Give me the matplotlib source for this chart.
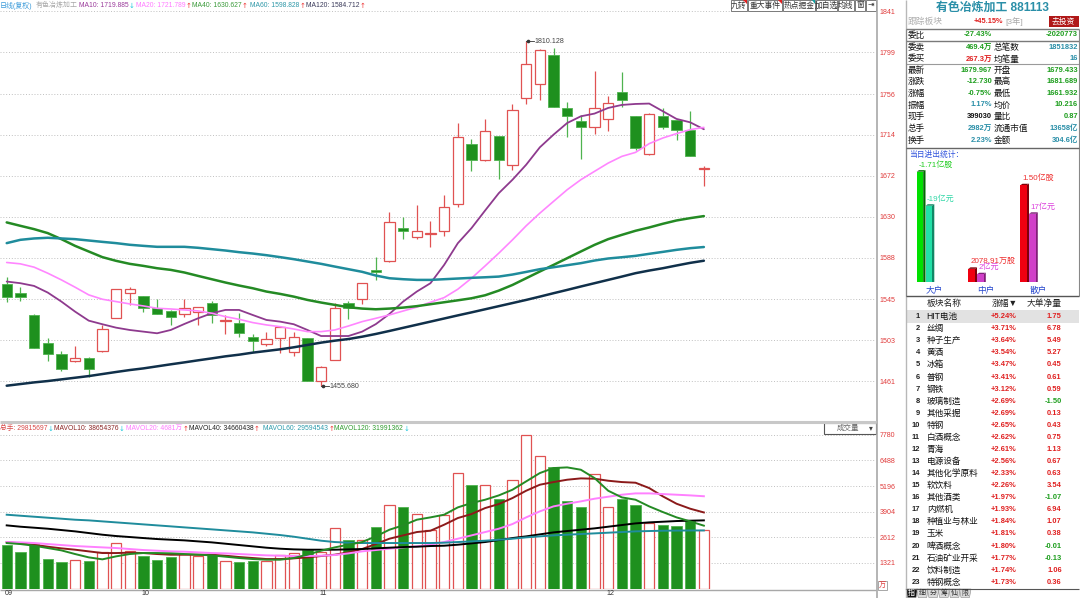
import matplotlib
matplotlib.use('Agg')
import matplotlib.pyplot as plt
from matplotlib.patches import Rectangle, Polygon
from matplotlib import font_manager
import numpy as np

_names = {f.name for f in font_manager.fontManager.ttflist}
NUM = 'Liberation Sans Narrow' if 'Liberation Sans Narrow' in _names else 'Liberation Sans'
NS = 1.0 if NUM == 'Liberation Sans Narrow' else 0.85
CJK = 'Noto Sans CJK SC'
FAM = [NUM, CJK, 'DejaVu Sans']
plt.rcParams['font.family'] = FAM

# ---------------- data ----------------
opens = [1560.6, 1551.3, 1529.0, 1499.8, 1488.5, 1481.6, 1485.0, 1492.2, 1525.5, 1551.3,
         1548.5, 1535.8, 1533.1, 1529.7, 1531.7, 1541.7, 1523.1, 1521.1, 1506.0, 1498.8,
         1504.9, 1490.5, 1505.3, 1461.0, 1482.6, 1541.0, 1545.4, 1575.3, 1584.9, 1618.2,
         1609.0, 1612.4, 1614.8, 1642.9, 1705.1, 1688.6, 1712.6, 1682.7, 1752.1, 1766.5,
         1796.7, 1741.8, 1728.7, 1722.2, 1730.8, 1757.9, 1733.9, 1694.8, 1733.2, 1729.8,
         1718.8, 1679.433]
highs = [1568.4, 1557.5, 1529.7, 1504.9, 1492.2, 1497.0, 1486.1, 1518.7, 1555.4, 1557.5,
         1548.5, 1545.4, 1534.1, 1545.4, 1537.6, 1543.4, 1529.0, 1531.4, 1509.4, 1511.1,
         1517.6, 1511.8, 1505.3, 1476.4, 1541.0, 1543.7, 1561.6, 1589.0, 1634.3, 1629.5,
         1641.9, 1625.8, 1651.8, 1726.3, 1709.9, 1730.5, 1712.6, 1745.9, 1810.128, 1802.5,
         1803.6, 1748.0, 1734.9, 1780.2, 1753.8, 1778.9, 1733.9, 1736.6, 1741.8, 1729.8,
         1739.0, 1681.689]
lows = [1542.7, 1543.7, 1494.6, 1481.9, 1471.6, 1480.9, 1465.5, 1491.2, 1525.5, 1539.3,
        1532.4, 1529.7, 1518.7, 1526.6, 1518.7, 1521.1, 1509.1, 1506.7, 1491.2, 1497.0,
        1489.5, 1487.1, 1461.0, 1455.68, 1482.6, 1524.8, 1540.3, 1565.0, 1583.2, 1606.9,
        1606.9, 1599.3, 1609.7, 1639.5, 1676.6, 1686.9, 1668.7, 1678.3, 1745.9, 1750.4,
        1742.8, 1711.6, 1689.3, 1715.0, 1717.8, 1742.8, 1698.9, 1693.7, 1720.5, 1709.2,
        1692.7, 1661.932]
closes = [1547.2, 1547.2, 1495.3, 1488.8, 1473.0, 1484.3, 1473.0, 1514.5, 1555.4, 1555.4,
          1535.8, 1529.7, 1527.3, 1535.8, 1537.6, 1529.0, 1523.8, 1510.1, 1502.5, 1504.3,
          1516.9, 1506.0, 1461.0, 1475.1, 1536.5, 1535.8, 1561.6, 1572.9, 1624.4, 1614.8,
          1615.5, 1613.7, 1639.5, 1711.6, 1688.6, 1718.4, 1688.6, 1740.1, 1787.4, 1801.2,
          1742.8, 1733.2, 1722.2, 1741.4, 1747.0, 1750.4, 1700.6, 1735.6, 1722.2, 1718.8,
          1692.7, 1679.967]
ma10 = [1563.3, 1561.6, 1558.8, 1552.0, 1542.7, 1532.4, 1523.1, 1519.4, 1515.9, 1513.5,
        1511.8, 1510.1, 1513.5, 1519.7, 1525.5, 1530.7, 1534.1, 1534.1, 1528.9, 1523.8,
        1522.1, 1519.4, 1513.5, 1507.3, 1507.3, 1507.3, 1511.8, 1519.5, 1530.0, 1542.7,
        1553.0, 1561.6, 1580.4, 1602.7, 1618.2, 1636.4, 1654.2, 1668.0, 1683.4, 1701.3,
        1714.3, 1726.3, 1733.2, 1736.0, 1741.8, 1744.9, 1745.9, 1746.3, 1738.4, 1730.5,
        1727.0, 1719.9]
ma20 = [1582.9, 1581.5, 1578.1, 1571.9, 1565.0, 1557.5, 1549.6, 1545.1, 1542.7, 1540.3,
        1538.2, 1535.8, 1535.1, 1534.1, 1533.1, 1530.7, 1527.2, 1524.5, 1521.1, 1518.7,
        1516.9, 1514.5, 1511.8, 1511.8, 1513.5, 1517.6, 1522.1, 1525.5, 1529.0, 1533.0,
        1537.0, 1542.0, 1546.8, 1555.4, 1566.7, 1579.4, 1592.5, 1606.2, 1620.6, 1633.6,
        1645.7, 1657.7, 1668.0, 1676.6, 1685.1, 1692.0, 1696.1, 1705.1, 1710.9, 1715.4,
        1719.5, 1721.8]
ma40 = [1624.1, 1620.6, 1617.2, 1613.1, 1606.9, 1600.0, 1594.2, 1588.4, 1584.6, 1581.5,
        1579.4, 1577.0, 1575.3, 1572.6, 1569.1, 1565.7, 1562.3, 1559.2, 1556.4, 1553.0,
        1550.6, 1547.8, 1544.4, 1541.7, 1539.3, 1536.9, 1535.5, 1534.8, 1535.5, 1536.5,
        1538.0, 1540.0, 1542.0, 1544.0, 1546.1, 1549.2, 1554.0, 1559.8, 1566.7, 1573.6,
        1580.4, 1587.3, 1594.2, 1601.0, 1606.9, 1611.3, 1615.5, 1618.9, 1622.7, 1626.1,
        1628.5, 1630.6]
ma60 = [1602.8, 1606.2, 1607.6, 1608.3, 1607.6, 1606.9, 1605.5, 1604.1, 1602.8, 1601.1,
        1600.0, 1599.0, 1599.0, 1599.0, 1598.0, 1596.6, 1595.2, 1593.5, 1592.1, 1590.4,
        1588.4, 1586.3, 1583.9, 1581.5, 1578.7, 1576.0, 1573.3, 1569.5, 1566.7, 1565.7,
        1565.0, 1565.0, 1565.7, 1566.4, 1567.1, 1567.7, 1568.4, 1570.5, 1573.2, 1576.0,
        1578.0, 1580.1, 1582.2, 1584.9, 1587.0, 1588.3, 1589.7, 1591.8, 1593.8, 1595.9,
        1597.6, 1598.8]
ma120 = [1456.2, 1457.9, 1459.6, 1461.0, 1462.7, 1464.4, 1466.1, 1468.2, 1470.3, 1472.3,
         1474.0, 1476.1, 1478.2, 1480.2, 1482.3, 1484.3, 1486.4, 1488.1, 1490.2, 1491.9,
         1493.6, 1495.7, 1498.1, 1500.5, 1502.5, 1504.2, 1506.6, 1509.4, 1512.5, 1515.7,
         1518.9, 1522.1, 1525.3, 1528.5, 1531.6, 1534.8, 1538.0, 1541.2, 1544.4, 1547.8,
         1551.3, 1554.7, 1558.2, 1561.6, 1565.0, 1568.4, 1571.9, 1574.6, 1577.0, 1579.8,
         1582.5, 1584.7]
# volume, in 万 (10^4 shares)
vol = [2207, 1871, 2291, 1519, 1368, 1452, 1402, 1871, 2325, 1905,
       1653, 1486, 1603, 1788, 1653, 1704, 1402, 1368, 1402, 1435,
       1737, 1821, 1989, 1855, 3080, 2459, 2459, 3130, 4221, 4137,
       3801, 2996, 3717, 5848, 5261, 5261, 4523, 5513, 7778, 6704,
       6150, 4422, 4120, 5815, 4120, 4556, 4221, 3331, 3247, 3163,
       3415, 2982]
mavol10 = [2375, 2308, 2241, 2140, 2056, 1989, 1905, 1821, 1821, 1838,
           1821, 1771, 1737, 1737, 1737, 1737, 1687, 1620, 1570, 1519,
           1519, 1553, 1603, 1670, 1737, 1855, 2023, 2274, 2543, 2710,
           2878, 2945, 3247, 3583, 3784, 4086, 4288, 4590, 4959, 5261,
           5395, 5513, 5580, 5563, 5462, 5395, 5362, 5093, 4674, 4304,
           4053, 3865]
mavol20 = [2375, 2358, 2325, 2274, 2224, 2174, 2140, 2106, 2073, 2023,
           1972, 1939, 1905, 1888, 1855, 1821, 1804, 1771, 1737, 1704,
           1687, 1670, 1670, 1687, 1720, 1804, 1905, 1972, 2039, 2106,
           2157, 2241, 2375, 2543, 2710, 2878, 3046, 3281, 3617, 3919,
           4170, 4304, 4422, 4556, 4657, 4758, 4825, 4825, 4791, 4758,
           4724, 4681]
mavol40 = [3214, 3147, 3097, 3046, 2979, 2912, 2828, 2744, 2677, 2627,
           2576, 2526, 2492, 2459, 2408, 2358, 2291, 2224, 2157, 2090,
           2039, 2006, 1989, 1989, 1989, 2006, 2023, 2056, 2090, 2123,
           2140, 2174, 2190, 2241, 2308, 2375, 2476, 2576, 2660, 2761,
           2861, 2929, 2996, 3063, 3147, 3231, 3314, 3365, 3398, 3432,
           3450, 3466]
mavol60 = [3751, 3700, 3650, 3600, 3550, 3499, 3466, 3415, 3365, 3315,
           3264, 3214, 3164, 3113, 3063, 3013, 2962, 2912, 2861, 2794,
           2727, 2643, 2543, 2442, 2375, 2341, 2325, 2325, 2325, 2325,
           2325, 2325, 2341, 2375, 2408, 2442, 2492, 2543, 2610, 2660,
           2710, 2744, 2778, 2811, 2845, 2878, 2912, 2929, 2945, 2952,
           2957, 2959]
mavol120 = [2325, 2274, 2190, 2073, 1955, 1771, 1603, 1503, 1653, 1771,
            1821, 1821, 1804, 1771, 1737, 1704, 1637, 1570, 1519, 1486,
            1486, 1570, 1737, 1939, 2106, 2241, 2375, 2660, 2996, 3214,
            3499, 3617, 3751, 4120, 4338, 4506, 4724, 5009, 5429, 5848,
            6100, 6134, 6016, 5597, 4959, 4623, 4506, 4170, 3885, 3617,
            3415, 3199]

price_ticks = [1461, 1503, 1545, 1588, 1630, 1672, 1714, 1756, 1799, 1841]
vol_ticks = [1321, 2612, 3904, 5196, 6488, 7780]
date_labels = ['09', '10', '11', '12']
date_index = [0, 10, 23, 44]

ma_names = ['MA10', 'MA20', 'MA40', 'MA60', 'MA120']
ma_values = ['1719.885', '1721.789', '1630.627', '1598.828', '1584.712']
ma_trend = ['↓', '↑', '↑', '↑', '↑']
vol_leg_names = ['总手', 'MAVOL10', 'MAVOL20', 'MAVOL40', 'MAVOL60', 'MAVOL120']
vol_leg_values = ['29815697', '38654376', '4681万', '34660438', '29594543', '31991362']
vol_leg_trend = ['↓', '↓', '↑', '↑', '↑', '↓']

quote_left_labels = ['委比', '委卖', '委买', '最新', '涨跌', '涨幅', '振幅', '现手', '总手', '换手']
quote_left_values = ['-27.43%', '469.4万', '267.3万', '1679.967', '-12.730', '-0.75%', '1.17%', '399030', '2982万', '2.23%']
quote_right_labels = ['', '总笔数', '均笔量', '开盘', '最高', '最低', '均价', '量比', '流通市值', '金额']
quote_right_values = ['-2020773', '1851832', '16', '1679.433', '1681.689', '1661.932', '10.216', '0.87', '13658亿', '304.6亿']

flow_groups = ['大户', '中户', '散户']
flow_shares = [-1.71, 0.2079, 1.50]      # 亿股
flow_amount = [-19, 2, 17]               # 亿元
flow_share_text = ['-1.71亿股', '2078.91万股', '1.50亿股']
flow_amount_text = ['-19亿元', '2亿元', '17亿元']

sector_names = ['HIT电池', '丝绸', '种子生产', '黄酒', '冰箱', '普钢', '钢铁', '玻璃制造', '其他采掘',
                '特钢', '白酒概念', '青海', '电源设备', '其他化学原料', '软饮料', '其他酒类', '内燃机',
                '种植业与林业', '玉米', '啤酒概念', '石油矿业开采', '饮料制造', '特钢概念']
sector_chg = [5.24, 3.71, 3.64, 3.54, 3.47, 3.41, 3.12, 2.69, 2.69, 2.65, 2.62, 2.61, 2.56,
              2.33, 2.26, 1.97, 1.93, 1.84, 1.81, 1.80, 1.77, 1.74, 1.73]
sector_net = [1.75, 6.78, 5.49, 5.27, 0.45, 0.61, 0.59, -1.50, 0.13, 0.43, 0.75, 1.13, 0.67,
              0.63, 3.54, -1.07, 6.94, 1.07, 0.38, -0.01, -0.13, 1.06, 0.36]

# ---------------- figure ----------------
W, H = 1080, 598
fig = plt.figure(figsize=(W / 100, H / 100), dpi=100)
fig.patch.set_facecolor('white')
X0, DX = 6.7, 13.67
XL = (-X0 / DX, (876 - X0) / DX)
n = len(closes)
idx = np.arange(n)

RED = '#E05252'
GRN_F = '#1E901E'
GRN_E = '#4FB34F'
BW = 0.76
AXC = '#E03C3C'


def frect(x0, y0, x1, y1):
    return [x0 / W, 1 - y1 / H, (x1 - x0) / W, (y1 - y0) / H]


# price panel
ax = fig.add_axes(frect(0, 10, 876, 418))
ax.set_xlim(*XL)
ax.set_ylim(1423.0, 1842.5)
for s in ax.spines.values():
    s.set_visible(False)
ax.set_xticks([])
ax.yaxis.tick_right()
ax.set_yticks(price_ticks)
ax.set_yticklabels([str(t) for t in price_ticks])
ax.tick_params(axis='y', length=0, pad=2.5, labelsize=6 * NS, labelcolor=AXC)
ax.grid(axis='y', color='#B8B8B8', linestyle=(0, (1.2, 2.2)), linewidth=0.6)
ax.set_axisbelow(True)

for i in range(n):
    o, h, l, c = opens[i], highs[i], lows[i], closes[i]
    if c >= o:
        ax.vlines(i, l, h, color=RED, lw=0.9, zorder=2)
        ax.add_patch(Rectangle((i - BW / 2, o), BW, max(c - o, 0.9), facecolor='white',
                               edgecolor=RED, lw=0.9, zorder=3))
    else:
        ax.vlines(i, l, h, color=GRN_E, lw=0.9, zorder=2)
        ax.add_patch(Rectangle((i - BW / 2, c), BW, max(o - c, 0.9), facecolor=GRN_F,
                               edgecolor=GRN_E, lw=0.6, zorder=3))

ma_colors = ['#8E3A8E', '#FF86FF', '#248A24', '#1F8C9C', '#10304A']
ma_widths = [1.3, 1.2, 1.8, 1.8, 1.8]
for arr, col, lw in zip([ma10, ma20, ma40, ma60, ma120], ma_colors, ma_widths):
    ax.plot(idx, arr, color=col, lw=lw, zorder=4, solid_capstyle='round')

imax = int(np.argmax(highs))
imin = int(np.argmin(lows))
ax.plot([imax, imax + 0.55], [highs[imax]] * 2, color='#333333', lw=0.6, zorder=5)
ax.plot([imax + 0.15], [highs[imax]], 'o', ms=1.6, color='#333333', zorder=5)
ax.text(imax + 0.6, highs[imax], f'{highs[imax]:.3f}', fontsize=6 * NS, color='#444444',
        va='center', ha='left')
ax.plot([imin, imin + 0.55], [lows[imin]] * 2, color='#333333', lw=0.6, zorder=5)
ax.plot([imin + 0.15], [lows[imin]], 'o', ms=1.6, color='#333333', zorder=5)
ax.text(imin + 0.6, lows[imin], f'{lows[imin]:.3f}', fontsize=6 * NS, color='#444444',
        va='center', ha='left')

# volume panel
VTOP = (589.2 - 424) * (7780 / (589.2 - 434.7))
av = fig.add_axes(frect(0, 424, 876, 589.2))
av.set_xlim(*XL)
av.set_ylim(0, VTOP)
for s in av.spines.values():
    s.set_visible(False)
av.set_xticks([])
av.yaxis.tick_right()
av.set_yticks(vol_ticks)
av.set_yticklabels([str(t) for t in vol_ticks])
av.tick_params(axis='y', length=0, pad=2.5, labelsize=6 * NS, labelcolor=AXC)
av.grid(axis='y', color='#B8B8B8', linestyle=(0, (1.2, 2.2)), linewidth=0.6)
av.set_axisbelow(True)
for i in range(n):
    if closes[i] >= opens[i]:
        av.bar(i, vol[i], width=BW, facecolor='white', edgecolor=RED, lw=0.9, zorder=2)
    else:
        av.bar(i, vol[i], width=BW, facecolor=GRN_F, edgecolor=GRN_E, lw=0.6, zorder=2)
vcols = ['#8B1A1A', '#FF80FF', '#000000', '#1F8C9C', '#248A24']
for arr, col in zip([mavol10, mavol20, mavol40, mavol60, mavol120], vcols):
    av.plot(idx, arr, color=col, lw=1.4, zorder=3)

# ---------------- overlay (pixel coords) ----------------
ov = fig.add_axes([0, 0, 1, 1], zorder=10)
ov.set_xlim(0, W)
ov.set_ylim(H, 0)
ov.axis('off')


def T(x, y, s, c='#000000', size=6, ha='left', va='center', weight='normal', fam=None):
    ov.text(x, y, s, color=c, fontsize=size, ha=ha, va=va, fontweight=weight,
            family=fam if fam else FAM)


def L(xs, ys, c='#A0A0A0', lw=1.0):
    ov.plot(xs, ys, color=c, lw=lw, solid_capstyle='butt')


# frame lines
L([876.5, 876.5], [0, 598], '#A8A8A8', 1.2)
L([905.5, 905.5], [0, 598], '#B8B8B8', 1.0)
L([0, 876], [421.5, 421.5], '#C8C8C8', 2.2)
L([0, 876], [589.6, 589.6], '#A8A8A8', 1.0)

# top legend
T(0, 5.5, '日线(复权)', '#3A9AD9', 5.0)
T(36, 5.5, '有色冶炼加工', '#A8A8A8', 5.0)
leg_x = [79, 136, 191.5, 250, 306]
leg_col = ['#9B3B9B', '#FF7AFF', '#3A9A3A', '#2F98A8', '#3A3A5A']
for nm, v, tr, x, col in zip(ma_names, ma_values, ma_trend, leg_x, leg_col):
    t = ov.text(x, 5.5, f'{nm}: {v}', color=col, fontsize=5.7 * NS, ha='left', va='center', family=FAM)
    ov.annotate(tr, xy=(1, 0.5), xycoords=t, xytext=(0.3, 0), textcoords='offset points',
                color='#22C8DD' if tr == '↓' else '#EE3333', fontsize=5.0, ha='left', va='center',
                family=['DejaVu Sans'])

# top buttons
buttons = [('九转', 730.7, 746.7), ('重大事件', 748, 781.7), ('热点掘金', 782.7, 815),
           ('加自选', 816, 836.7), ('均线', 837.7, 854), ('窗', 855, 865), ('⇥', 866, 875.5)]
for lab, x0, x1 in buttons:
    ov.add_patch(Rectangle((x0, 0), x1 - x0, 10.5, facecolor='white', edgecolor='#7A7A7A', lw=0.7))
    T((x0 + x1) / 2, 5.5, lab, '#333333', 5.6, ha='center')
for x1, col in [(746.7, '#E02020'), (781.7, '#E02020'), (815, '#10A0A0')]:
    ov.add_patch(Polygon([[x1 - 3.5, 0], [x1, 0], [x1, 3.5]], closed=True, facecolor=col, edgecolor='none'))

# volume legend
vl_x = [0, 54, 126, 189, 263, 334]
vl_col = ['#D84848', '#8B2525', '#FF7AFF', '#202020', '#2A9AAA', '#2E9A2E']
for nm, v, tr, x, col in zip(vol_leg_names, vol_leg_values, vol_leg_trend, vl_x, vl_col):
    t = ov.text(x, 428.7, f'{nm}: {v}', color=col, fontsize=5.7 * NS, ha='left', va='center', family=FAM)
    ov.annotate(tr, xy=(1, 0.5), xycoords=t, xytext=(0.3, 0), textcoords='offset points',
                color='#22C8DD' if tr == '↓' else '#EE3333', fontsize=5.0, ha='left', va='center',
                family=['DejaVu Sans'])

# 成交量 box
ov.add_patch(Rectangle((824, 422.7), 52, 10.8, facecolor='white', edgecolor='#555555', lw=0.8))
T(848, 428.3, '成交量', '#666666', 5.4, ha='center')
T(871, 428.0, '▾', '#444444', 5.5, ha='center', fam=['DejaVu Sans'])
# 万 unit box
ov.add_patch(Rectangle((878, 580.5), 9, 9, facecolor='white', edgecolor='#999999', lw=0.6))
T(882.5, 585, '万', AXC, 5.2, ha='center')

# date labels
for lab, i in zip(date_labels, date_index):
    T(max(X0 + DX * i - 2, 0), 593.5, lab, '#333333', 6 * NS)

# ---------------- right panel ----------------
T(992.5, 7.5, '有色冶炼加工 881113', '#2A8FA8', 8.6, ha='center', weight='bold')
T(907.5, 21.5, '跟踪板块', '#B0B0B0', 6.3)
T(974, 21.5, '+45.15%', '#E02020', 6.3 * NS, weight='bold')
T(1005, 21.5, '[3年]', '#A8A8A8', 6.0)
ov.add_patch(Rectangle((1049, 15.8), 29.5, 11.5, facecolor='#B01818', edgecolor='none'))
T(1063.7, 21.6, '去投资', 'white', 5.6, ha='center')

L([906, 1079], [29.3, 29.3], '#7A7A7A', 1.0)
L([906, 1079], [41.0, 41.0], '#7A7A7A', 1.0)
L([906, 1079], [64.0, 64.0], '#9A9A9A', 0.8)
L([906, 906], [29.3, 296], '#888888', 0.8)
L([1079, 1079], [29.3, 296], '#888888', 0.8)
L([906, 1079], [147.5, 147.5], '#666666', 1.0)
L([906, 1079], [296, 296], '#555555', 1.0)

G = '#1E9E1E'
RR = '#E02020'
TE = '#2A8FA8'
lv_col = [G, G, RR, G, G, G, TE, '#111111', TE, TE]
rv_col = [G, TE, TE, G, G, G, G, G, TE, TE]
row_y = [35, 47.3, 59, 70.7, 81.7, 93.3, 105, 116.7, 128.3, 140]
for y, ll, lvv, rl, rv, c1, c2 in zip(row_y, quote_left_labels, quote_left_values,
                                       quote_right_labels, quote_right_values, lv_col, rv_col):
    T(907.5, y, ll, '#111111', 6.2)
    T(992, y, lvv, c1, 6.4 * NS, ha='right', weight='bold')
    if rl:
        T(993.5, y, rl, '#111111', 6.2)
    T(1078, y, rv, c2, 6.4 * NS, ha='right', weight='bold')

# flow bar chart
T(909, 155, '当日进出统计：', '#3355DD', 5.6)
fa = fig.add_axes(frect(906, 150, 1079, 282.3), zorder=11)
fa.set_xlim(906, 1079)
fa.set_ylim(0, 132.3)
fa.axis('off')
SH_SCALE = 64.7   # px per 亿股
AM_SCALE = 4.03   # px per 亿元
centers = [925.5, 977, 1029]
share_cols = [('#00E000', '#006A00'), ('#F00010', '#800008'), ('#F00010', '#800008')]
amt_cols = [('#22E0A8', '#118866'), ('#D040C8', '#802078'), ('#D040C8', '#802078')]
lab_share_col = ['#22CC22', '#EE3030', '#EE3030']
lab_amt_col = ['#33D8A8', '#DD44DD', '#DD44DD']
for k in range(3):
    cx = centers[k]
    hs = abs(flow_shares[k]) * SH_SCALE
    ha_ = abs(flow_amount[k]) * AM_SCALE
    for (x0, hgt, (fc, dc)) in [(cx - 8.8, hs, share_cols[k]), (cx, ha_, amt_cols[k])]:
        fa.add_patch(Polygon([[x0 + 6.5, hgt], [x0 + 8.8, hgt + 1.5], [x0 + 8.8, 0], [x0 + 6.5, 0]],
                             closed=True, facecolor=dc, edgecolor='none'))
        fa.add_patch(Polygon([[x0, hgt], [x0 + 2.3, hgt + 1.5], [x0 + 8.8, hgt + 1.5], [x0 + 6.5, hgt]],
                             closed=True, facecolor=dc, edgecolor='none'))
        fa.add_patch(Rectangle((x0, 0), 6.5, hgt, facecolor=fc, edgecolor='none'))
    fa.text(cx - 8.8 + 2.0, hs + 7.0, flow_share_text[k], color=lab_share_col[k], fontsize=5.8,
            ha='left', va='center', family=FAM)
    fa.text(cx + 1.5, ha_ + 7.0, flow_amount_text[k], color=lab_amt_col[k], fontsize=5.8,
            ha='left', va='center', family=FAM)
    T(cx + 9, 290.5, flow_groups[k], '#2244CC', 6.2, ha='center')

# sector list
T(926.7, 303.3, '板块名称', '#222222', 6.3)
T(1018, 303.3, '涨幅▼', '#222222', 6.3, ha='right')
T(1062, 303.3, '大单净量', '#222222', 6.3, ha='right')
ov.add_patch(Rectangle((906, 310.3), 173, 12.6, facecolor='#E2E2E2', edgecolor='none'))
for k, (nm, ch, nt) in enumerate(zip(sector_names, sector_chg, sector_net)):
    y = 316.7 + 12.07 * k
    T(920, y, str(k + 1), '#222222', 6.4 * NS, ha='right', weight='bold')
    T(926.7, y, nm, '#111111', 6.2)
    T(1016.7, y, f'+{ch:.2f}%', '#E02020', 6.4 * NS, ha='right', weight='bold')
    T(1061.7, y, f'{nt:.2f}', '#E02020' if nt >= 0 else '#1E9E1E', 6.4 * NS, ha='right', weight='bold')

L([906, 1079], [588.5, 588.5], '#555555', 0.8)
tabs = ['指', '细', '分', '筹', '仙', '限']
for k, tb in enumerate(tabs):
    x0 = 906 + 10.7 * k
    fc = '#111111' if k == 0 else '#DCDCDC'
    ov.add_patch(Polygon([[x0, 589], [x0 + 11.5, 589], [x0 + 10, 597.5], [x0 + 1.5, 597.5]],
                         closed=True, facecolor=fc, edgecolor='#888888', lw=0.4))
    T(x0 + 5.6, 593.2, tb, 'white' if k == 0 else '#333333', 5.0, ha='center')

fig.savefig('out.png', dpi=100, facecolor='white')
